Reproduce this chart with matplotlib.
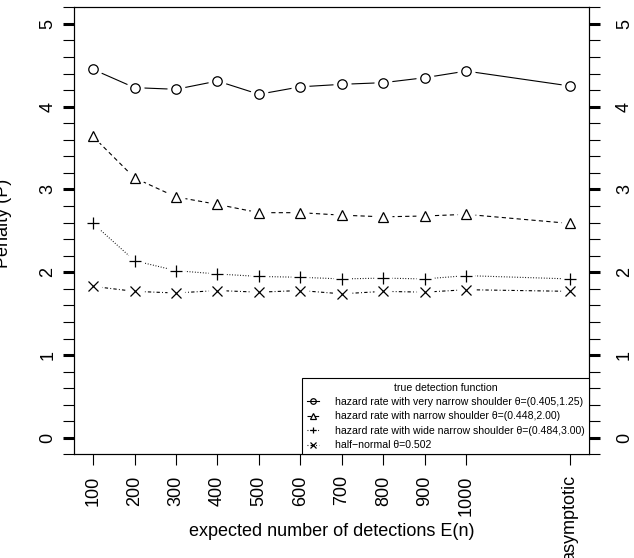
import matplotlib
matplotlib.use('Agg')
from matplotlib import pyplot as plt
from matplotlib.ticker import MultipleLocator

plt.rcParams['font.family'] = ['Liberation Sans', 'DejaVu Sans']

# expected number of detections, 'asymptotic' placed after 1000
x_pos = [100, 200, 300, 400, 500, 600, 700, 800, 900, 1000, 1250]
x_labels = ['100', '200', '300', '400', '500', '600', '700', '800', '900', '1000', 'asymptotic']

very_narrow = [4.45, 4.23, 4.21, 4.31, 4.15, 4.24, 4.27, 4.29, 4.35, 4.43, 4.25]
narrow = [3.64, 3.14, 2.91, 2.82, 2.72, 2.72, 2.69, 2.67, 2.68, 2.70, 2.59]
wide_narrow = [2.59, 2.14, 2.02, 1.98, 1.95, 1.94, 1.92, 1.93, 1.92, 1.96, 1.92]
half_normal = [1.83, 1.77, 1.75, 1.78, 1.76, 1.78, 1.74, 1.77, 1.76, 1.79, 1.77]

labels = ['hazard rate with very narrow shoulder \u03b8=(0.405,1.25)',
          'hazard rate with narrow shoulder \u03b8=(0.448,2.00)',
          'hazard rate with wide narrow shoulder \u03b8=(0.484,3.00)',
          'half\u2212normal \u03b8=0.502']

series = [very_narrow, narrow, wide_narrow, half_normal]
markers = ['o', '^', '+', 'x']
msizes = [6.8, 7.8, 9, 6.8]
styles = ['-', (0, (3.8, 2.9)), (0, (0.8, 1.6)), (0, (0.8, 2.0, 3.0, 2.0))]

fig = plt.figure(figsize=(6.34, 5.58), dpi=100)
ax = fig.add_axes([0.1167, 0.1855, 0.8123, 0.8014])

handles = []
for ys, m, ms, ls, lab in zip(series, markers, msizes, styles, labels):
    ax.plot(x_pos, ys, color='black', lw=0.8, linestyle=ls, zorder=2)
    # white halo gives the R type="b" gap around each point
    ax.plot(x_pos, ys, linestyle='none', marker='o', ms=12, mfc='white',
            mec='white', zorder=3)
    ax.plot(x_pos, ys, linestyle='none', marker=m, ms=ms, mfc='none',
            mec='black', mew=0.9, zorder=4)
    h, = ax.plot([], [], color='black', lw=0.8, linestyle=ls, marker=m,
                 ms=4, mfc='none', mec='black', mew=0.9, label=lab)
    handles.append(h)

ax.set_xlim(54, 1296)
ax.set_ylim(-0.2, 5.2)

ax.set_xticks(x_pos)
ax.set_xticklabels(x_labels, rotation=90, fontsize=13)
ax.set_yticks([0, 1, 2, 3, 4, 5])
ax.yaxis.set_minor_locator(MultipleLocator(0.2))
ax.tick_params(axis='x', direction='out', length=8, width=0.8, pad=7)
ax.tick_params(axis='y', which='major', direction='out', length=8, width=2.2,
               labelsize=13, labelrotation=90, pad=4.8)
ax.tick_params(axis='y', which='minor', direction='out', length=8, width=0.8)
for t in ax.get_yticklabels():
    t.set_va('center')

# right-hand axis mirrors the left one
ax2 = ax.twinx()
ax2.set_ylim(ax.get_ylim())
ax2.set_yticks([0, 1, 2, 3, 4, 5])
ax2.yaxis.set_minor_locator(MultipleLocator(0.2))
ax2.tick_params(axis='y', which='major', direction='out', length=8, width=2.2,
                labelsize=13, labelrotation=90, pad=11.5)
ax2.tick_params(axis='y', which='minor', direction='out', length=8, width=0.8)
for t in ax2.get_yticklabels():
    t.set_va('center')

for a in (ax, ax2):
    for s in a.spines.values():
        s.set_linewidth(0.8)

ax.set_xlabel('expected number of detections E(n)', fontsize=13, va='center')
ax.xaxis.set_label_coords(0.5, -0.173)
fig.text(0.006, 0.6, 'Penalty (P)', rotation=90, fontsize=13, ha='center', va='center')

leg = ax2.legend(handles=handles, loc='lower right', borderaxespad=0, fontsize=7.6,
                 title='true detection function', title_fontsize=7.6,
                 fancybox=False, edgecolor='black', framealpha=1,
                 handlelength=1.2, handletextpad=1.5, labelspacing=0.42,
                 borderpad=0.4)
leg.get_frame().set_linewidth(0.8)

fig.savefig('out.png', dpi=100)
